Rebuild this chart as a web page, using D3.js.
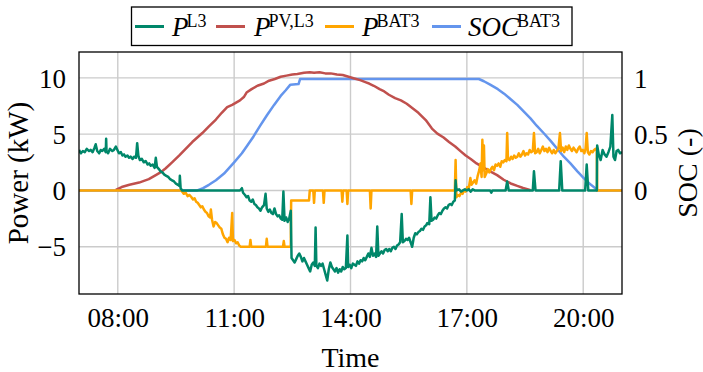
<!DOCTYPE html>
<html>
<head>
<meta charset="utf-8">
<script src="https://cdn.jsdelivr.net/npm/d3@7"></script>
<style>
  html, body { margin: 0; padding: 0; background: #fff; }
  svg { display: block; }
  text { font-family: "Liberation Serif", "Times New Roman", serif; fill: #000; }
</style>
</head>
<body>
<svg id="chart" width="703" height="372"></svg>
<script>
// ---------------- data ----------------
const xTicks = [8, 11, 14, 17, 20];
const xTickLabels = ["08:00", "11:00", "14:00", "17:00", "20:00"];
const yTicks = [-5, 0, 5, 10];
const socTicks = [0, 0.5, 1];
const socTickLabels = ["0", "0.5", "1"];

// P^L3 (kW), time in hours
const tL3 = [7.00,7.05,7.10,7.15,7.20,7.26,7.30,7.35,7.40,7.43,7.47,7.52,7.56,7.60,7.65,7.69,7.70,7.71,7.75,7.80,7.86,7.90,7.95,7.99,
  8.03,8.08,8.12,8.16,8.20,8.25,8.29,8.33,8.38,8.42,8.47,8.50,8.53,8.57,8.62,8.67,8.72,8.77,8.81,8.85,8.90,8.95,8.98,
  9.01,9.06,9.10,9.15,9.20,9.25,9.30,9.35,9.40,9.45,9.50,9.55,9.59,9.60,9.62,9.66,
  11.15,11.20,11.23,11.28,11.32,11.36,11.40,11.44,11.48,11.52,11.56,11.60,11.64,11.68,11.72,11.77,11.81,11.84,11.88,11.92,11.96,
  12.00,12.04,12.08,12.12,12.16,12.20,12.24,12.27,12.30,12.34,12.38,12.42,12.46,12.48,12.52,12.56,12.60,12.64,12.68,12.72,12.76,12.80,12.84,12.88,12.92,12.96,
  13.00,13.04,13.08,13.10,13.12,13.16,13.20,13.24,13.28,13.32,13.36,13.40,13.44,13.48,13.52,13.56,13.60,13.64,13.68,13.72,13.76,13.80,13.84,13.88,13.92,13.94,13.98,
  14.02,14.06,14.10,14.14,14.18,14.22,14.26,14.30,14.34,14.38,14.42,14.46,14.50,14.54,14.58,14.62,14.66,14.69,14.72,14.76,14.80,14.84,14.88,14.92,14.96,
  15.00,15.04,15.08,15.12,15.16,15.20,15.24,15.28,15.32,15.35,15.39,15.43,15.47,15.51,15.55,15.59,15.63,15.67,15.71,15.75,15.79,15.83,15.87,15.91,15.95,15.98,
  16.03,16.06,16.09,16.13,16.17,16.21,16.25,16.29,16.33,16.37,16.41,16.45,16.49,16.53,16.57,16.61,16.65,16.69,16.71,16.73,16.80,16.85,16.90,16.95,
  17.00,17.05,17.10,17.15,17.20,17.60,17.63,17.66,18.00,18.04,18.08,18.70,18.73,18.77,19.38,19.42,19.46,20.05,20.09,20.13,20.35,
  20.36,20.40,20.45,20.50,20.55,20.60,20.65,20.70,20.75,20.78,20.82,20.86,20.90,20.95,21.00];
const pL3 = [3.6,3.3,3.5,3.4,3.7,3.5,3.6,3.4,3.8,4.1,3.5,3.3,3.6,3.5,3.7,3.4,4.6,3.5,3.3,3.7,3.5,3.6,3.9,3.6,
  3.3,3.4,3.1,3.2,3.0,3.1,2.9,3.0,2.8,3.0,2.9,4.2,3.1,2.7,2.8,2.5,2.6,2.3,2.4,2.2,2.3,2.0,2.9,
  2.1,1.9,1.7,1.6,1.4,1.3,1.2,1.0,0.9,0.8,0.6,0.5,0.4,1.3,0.2,0,
  0,0.2,-0.2,-0.4,-0.6,-0.5,-0.9,-1.0,-0.8,-1.2,-1.3,-1.5,-1.6,-1.8,-1.5,-1.3,-0.3,-1.6,-1.9,-1.7,-2.0,
  -2.1,-1.6,-2.1,-2.3,-2.2,-2.5,-2.6,-0.1,-2.7,-2.4,-2.8,-2.5,-1.8,-6.0,-6.2,-6.4,-6.1,-5.8,-5.6,-5.9,-6.3,-6.0,-6.3,-6.6,-6.9,-7.2,
  -6.6,-6.4,-6.7,-3.3,-6.7,-6.9,-6.5,-6.7,-6.5,-7.0,-7.5,-8.0,-7.0,-6.4,-6.8,-7.0,-7.2,-6.9,-7.3,-7.0,-7.2,-6.8,-7.0,-6.9,-4.0,-6.8,-6.6,
  -6.9,-6.5,-6.6,-6.7,-6.3,-6.5,-6.2,-6.3,-6.0,-6.2,-5.9,-5.6,-5.9,-5.1,-5.8,-5.6,-5.9,-3.2,-5.8,-5.6,-5.4,-5.6,-5.3,-5.2,-5.4,
  -5.2,-5.4,-5.1,-5.0,-5.2,-4.9,-4.8,-4.6,-2.1,-4.6,-4.5,-4.3,-4.4,-4.2,-4.6,-5.0,-4.2,-3.8,-3.9,-3.7,-3.6,-3.4,-3.5,-3.2,-3.1,-2.9,
  -3.0,-0.6,-2.7,-2.6,-2.4,-2.5,-2.2,-2.0,-2.1,-1.8,-1.6,-1.5,-1.6,-1.3,-1.2,-1.3,-1.0,-0.9,0.9,0.0,0.1,-0.1,0,0.1,
  0,0.1,-0.1,0.1,0,0,-0.2,0,0,0.8,0,0,1.7,0,0,2.6,0,0,2.3,0,0,
  4.0,3.2,2.7,3.6,3.2,3.0,3.4,3.9,6.7,3.0,2.7,3.5,3.6,3.3,3.4];

// P^PV,L3 (kW)
const tPV = [7.95,8.1,8.3,8.55,8.8,8.98,9.1,9.23,9.4,9.58,9.75,9.92,10.05,10.18,10.35,10.53,10.68,10.82,10.95,11.05,11.15,11.25,11.32,11.45,
  11.6,11.77,11.9,12.05,12.2,12.35,12.5,12.63,12.8,12.95,13.06,13.2,13.35,13.49,13.65,13.8,13.95,14.1,14.25,14.4,14.48,14.6,14.75,14.87,
  14.99,15.15,15.3,15.45,15.6,15.75,15.94,16.1,16.24,16.4,16.54,16.7,16.85,16.97,17.1,17.25,17.4,17.6,17.78,17.95,18.13,18.3,18.45,18.56,18.64];
const pPV = [0.05,0.3,0.5,0.7,1.0,1.36,1.6,1.95,2.5,3.1,3.7,4.3,4.7,5.1,5.7,6.3,6.9,7.4,7.6,7.8,8.0,8.3,8.7,9.0,
  9.3,9.5,9.75,9.9,10.1,10.2,10.3,10.35,10.45,10.5,10.45,10.5,10.4,10.4,10.3,10.25,10.1,9.95,9.8,9.6,9.5,9.3,9.0,8.8,
  8.5,8.2,8.0,7.7,7.3,6.9,6.25,5.5,5.05,4.7,4.3,3.9,3.45,3.1,2.8,2.4,2.1,1.7,1.36,0.95,0.62,0.4,0.22,0.12,0.02];

// P^BAT3 (kW)
const tBAT = [7.00,9.62,9.66,9.70,9.75,9.80,9.85,9.90,9.94,9.98,10.02,10.06,10.10,10.14,10.18,10.22,10.26,10.30,10.34,10.38,10.40,10.43,10.47,
  10.51,10.55,10.59,10.63,10.67,10.71,10.75,10.79,10.83,10.87,10.91,10.95,10.97,11.01,11.05,11.09,11.13,11.17,11.40,11.42,11.44,11.82,11.84,11.86,
  12.26,12.28,12.30,12.46,12.47,12.93,12.95,13.04,13.06,13.08,13.29,13.31,13.33,13.77,13.79,13.81,13.90,13.92,13.94,14.50,14.52,14.54,15.55,15.57,15.59,
  16.69,16.71,16.73,16.77,16.81,16.85,16.89,16.93,16.97,17.01,17.05,17.09,17.12,17.16,17.20,17.24,17.28,17.32,17.35,17.38,17.40,17.42,17.44,17.46,
  17.50,17.54,17.58,17.62,17.66,17.70,17.74,17.78,17.82,17.86,17.90,17.94,17.98,18.02,18.04,18.06,18.10,18.14,18.18,18.22,18.26,18.30,18.34,18.38,
  18.42,18.46,18.50,18.54,18.58,18.62,18.66,18.70,18.73,18.76,18.80,18.84,18.88,18.92,18.96,19.00,19.04,19.08,19.12,19.16,19.20,19.24,19.28,19.32,
  19.36,19.40,19.43,19.47,19.51,19.55,19.59,19.63,19.67,19.71,19.75,19.79,19.83,19.87,19.91,19.95,19.99,20.03,20.06,20.09,20.12,20.16,20.20,20.24,
  20.28,20.32,20.35,20.36,21.00];
const pBAT = [0,0,-0.1,-0.3,-0.2,-0.5,-0.4,-0.6,-0.8,-0.7,-1.0,-1.1,-1.3,-1.5,-1.4,-1.7,-1.9,-2.0,-2.3,-2.4,-1.7,-2.6,-3.2,
  -2.8,-2.9,-3.1,-3.3,-3.4,-3.9,-4.2,-4.3,-4.6,-4.2,-4.4,-2.0,-4.5,-4.4,-4.7,-4.6,-4.9,-5.0,-5.0,-4.4,-5.0,-5.0,-4.3,-5.0,
  -5.0,-4.5,-5.0,-5.0,-0.9,-0.9,0,0,-1.1,0,0,-1.1,0,0,-1.0,0,0,-1.2,0,0,-1.6,0,0,-1.2,0,
  0,2.7,-0.6,-0.4,-0.5,-0.2,-0.3,0.0,-0.1,0.3,0.2,1.1,0.5,0.7,0.9,0.6,1.3,1.8,2.4,1.2,4.5,1.8,4.0,1.2,
  1.5,1.9,1.6,1.9,2.1,1.8,2.3,2.2,2.4,2.1,2.6,2.5,2.7,2.6,5.1,2.8,2.7,3.0,2.8,3.1,2.9,3.0,3.3,3.0,
  3.2,3.5,3.1,3.3,3.2,3.6,3.4,3.5,5.1,3.3,3.4,3.7,3.3,3.6,3.9,3.5,3.7,3.4,3.8,3.5,3.3,3.6,3.3,3.5,
  3.7,5.1,3.5,3.8,3.4,3.9,3.6,4.0,3.7,3.5,3.8,3.6,3.4,3.7,3.9,3.5,3.6,3.3,3.7,5.1,3.4,3.2,3.5,3.4,
  3.6,3.7,3.5,0,0];

// SOC^BAT3 (-)
const tSOC = [7.0,10.05,10.2,10.35,10.53,10.74,11.0,11.2,11.34,11.5,11.68,11.85,12.03,12.2,12.33,12.45,12.66,12.7,14.0,17.31,
  17.44,17.6,17.8,17.96,18.13,18.3,18.47,18.64,18.8,18.99,19.16,19.33,19.5,19.67,19.85,20.02,20.2,20.32,20.36,21.0];
const socBAT = [0,0,0.02,0.05,0.09,0.15,0.25,0.33,0.40,0.48,0.58,0.67,0.76,0.84,0.89,0.94,0.945,0.99,0.99,0.99,
  0.97,0.94,0.90,0.86,0.81,0.76,0.70,0.64,0.575,0.506,0.44,0.37,0.30,0.24,0.17,0.107,0.05,0.018,0,0];

// ---------------- chart ----------------
const svg = d3.select("#chart");
const L = 79, R = 622, T = 52, B = 294;
const x = d3.scaleLinear().domain([7, 21]).range([L, R]);
const y = d3.scaleLinear().domain([-9.2, 12.3]).range([B, T]);
const ySOC = d3.scaleLinear().domain([-0.92, 1.23]).range([B, T]);

const colors = { L3: "#00876a", PV: "#c0504d", BAT: "#ffa500", SOC: "#6495ed" };

// grid
const grid = svg.append("g");
grid.selectAll(".gx").data(xTicks).join("line")
  .attr("x1", d => x(d)).attr("x2", d => x(d)).attr("y1", T).attr("y2", B)
  .attr("stroke", "#cbcbcb").attr("stroke-width", 1.4);
grid.selectAll(".gy").data(yTicks).join("line")
  .attr("x1", L).attr("x2", R).attr("y1", d => y(d)).attr("y2", d => y(d))
  .attr("stroke", "#cbcbcb").attr("stroke-width", 1.4);

// axes (labels only)
const fs = 27;
const xAxis = d3.axisBottom(x).tickValues(xTicks).tickFormat((d, i) => xTickLabels[i]).tickSize(0).tickPadding(0);
const gx = svg.append("g").attr("transform", `translate(0,${B})`).call(xAxis);
gx.select(".domain").remove();
gx.selectAll("text").attr("font-size", fs).attr("font-family", "Liberation Serif").attr("dy", null).attr("y", 33);

const yAxis = d3.axisLeft(y).tickValues(yTicks).tickSize(0).tickPadding(13);
const gy = svg.append("g").attr("transform", `translate(${L},0)`).call(yAxis);
gy.select(".domain").remove();
gy.selectAll("text").attr("font-size", fs).attr("font-family", "Liberation Serif").attr("dy", "0.34em");

const yAxisR = d3.axisRight(ySOC).tickValues(socTicks).tickFormat((d, i) => socTickLabels[i]).tickSize(0).tickPadding(12);
const gyr = svg.append("g").attr("transform", `translate(${R},0)`).call(yAxisR);
gyr.select(".domain").remove();
gyr.selectAll("text").attr("font-size", fs).attr("font-family", "Liberation Serif").attr("dy", "0.34em");

// axis titles
svg.append("text").attr("x", (L + R) / 2).attr("y", 367).attr("text-anchor", "middle")
  .attr("font-size", 28).text("Time");
svg.append("text").attr("transform", `translate(28,${(T + B) / 2}) rotate(-90)`).attr("text-anchor", "middle")
  .attr("font-size", 29).text("Power (kW)");
svg.append("text").attr("transform", `translate(697,${(T + B) / 2}) rotate(-90)`).attr("text-anchor", "middle")
  .attr("font-size", 28).text("SOC (-)");

// lines
svg.append("clipPath").attr("id", "clip").append("rect")
  .attr("x", L).attr("y", T).attr("width", R - L).attr("height", B - T);
const plot = svg.append("g").attr("clip-path", "url(#clip)");
const mk = (ts, vs, sc) => d3.line().x((d, i) => x(ts[i])).y((d, i) => sc(vs[i]))(vs);
const lw = 2.5;
plot.append("path").attr("d", mk(tSOC, socBAT, ySOC)).attr("fill", "none").attr("stroke", colors.SOC).attr("stroke-width", lw).attr("stroke-linejoin", "round");
plot.append("path").attr("d", mk(tPV, pPV, y)).attr("fill", "none").attr("stroke", colors.PV).attr("stroke-width", lw).attr("stroke-linejoin", "round");
plot.append("path").attr("d", mk(tBAT, pBAT, y)).attr("fill", "none").attr("stroke", colors.BAT).attr("stroke-width", lw).attr("stroke-linejoin", "round");
plot.append("path").attr("d", mk(tL3, pL3, y)).attr("fill", "none").attr("stroke", colors.L3).attr("stroke-width", lw).attr("stroke-linejoin", "round");

// frame
svg.append("rect").attr("x", L).attr("y", T).attr("width", R - L).attr("height", B - T)
  .attr("fill", "none").attr("stroke", "#000").attr("stroke-width", 1.3);

// legend
const legend = [
  { c: colors.L3, lx: 135, tx: 172, main: "P", sup: "L3" },
  { c: colors.PV, lx: 216, tx: 254, main: "P", sup: "PV,L3" },
  { c: colors.BAT, lx: 325, tx: 362, main: "P", sup: "BAT3" },
  { c: colors.SOC, lx: 432, tx: 468, main: "SOC", sup: "BAT3" }
];
svg.append("rect").attr("x", 131.5).attr("y", 7).attr("width", 440.5).attr("height", 38.5)
  .attr("fill", "#fff").attr("stroke", "#000").attr("stroke-width", 1.3);
legend.forEach(e => {
  svg.append("line").attr("x1", e.lx).attr("x2", e.lx + 29).attr("y1", 26.5).attr("y2", 26.5)
    .attr("stroke", e.c).attr("stroke-width", lw + 0.5);
  const t = svg.append("text").attr("x", e.tx).attr("y", 35.5).attr("font-size", 27);
  t.append("tspan").attr("font-style", "italic").text(e.main);
  t.append("tspan").attr("font-size", 18).attr("dy", -8.5).attr("dx", -2).text(e.sup);
});
</script>
</body>
</html>
